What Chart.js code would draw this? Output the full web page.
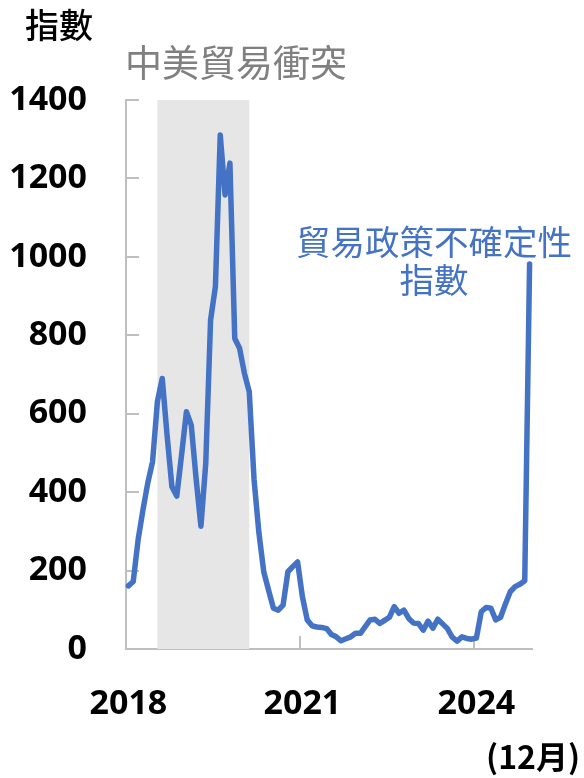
<!DOCTYPE html>
<html>
<head>
<meta charset="utf-8">
<script src="https://cdn.jsdelivr.net/npm/chart.js@4.4.1/dist/chart.umd.min.js"></script>
<style>
html,body{margin:0;padding:0;background:#fff;}
#wrap{position:relative;width:584px;height:778px;overflow:hidden;}
#c{position:absolute;left:0;top:0;}
.t{position:absolute;font-family:"Noto Sans CJK TC","Noto Sans",sans-serif;white-space:nowrap;line-height:1;}
</style>
</head>
<body>
<div id="wrap">
<canvas id="c" width="584" height="778"></canvas>
<div class="t" style="left:25px;top:7px;font-size:34px;color:#000;font-weight:500;">指數</div>
<div class="t" style="left:125px;top:43px;font-size:37px;color:#808080;">中美貿易衝突</div>
<div class="t" style="left:294px;top:221px;font-size:34.5px;color:#4472c4;text-align:center;width:280px;line-height:38px;">貿易政策不確定性<br>指數</div>
<div class="t" style="right:4px;top:739px;font-size:32px;color:#000;font-weight:600;">(12月)</div>
</div>
<script>
// ---- data ----
const years = [2018, 2019, 2020, 2021, 2022, 2023, 2024];
const tickYears = ['2018', '2021', '2024'];
const months = [];
years.forEach(y => { for (let m = 1; m <= 12; m++) months.push(y + '-' + String(m).padStart(2, '0')); });

const tpuIndex = [
  161, 172, 278, 354, 423, 478, 631, 690, 545, 414, 390, 495,
  605, 571, 435, 313, 473, 839, 924, 1311, 1158, 1239, 792, 767,
  703, 656, 431, 296, 197, 150, 104, 99, 112, 197, 210, 222,
  133, 74, 59, 56, 55, 52, 37, 31, 21, 26, 31, 40,
  40, 57, 74, 76, 65, 73, 81, 108, 91, 99, 78, 66,
  65, 48, 71, 53, 76, 64, 52, 30, 20, 31, 27, 25,
  28, 95, 106, 104, 74, 81, 115, 146, 159, 165, 174, 982
];
const yTicks = [0, 200, 400, 600, 800, 1000, 1200, 1400];
const shadeStart = '2018-07';
const shadeEnd = '2020-02';

const AXIS = '#bfbfbf';

const decor = {
  id: 'decor',
  beforeDatasetsDraw(chart) {
    const {ctx, scales: {x, y}} = chart;
    const x0 = x.getPixelForValue(months.indexOf(shadeStart));
    const x1 = x.getPixelForValue(months.indexOf(shadeEnd));
    const yt = y.getPixelForValue(1400), yb = y.getPixelForValue(0);
    ctx.save();
    ctx.fillStyle = '#e6e6e6';
    ctx.fillRect(x0, yt, x1 - x0, yb - yt);
    ctx.strokeStyle = AXIS;
    ctx.lineWidth = 2;
    ctx.beginPath();
    yTicks.forEach(v => {
      const py = Math.round(y.getPixelForValue(v));
      ctx.moveTo(x.left, py); ctx.lineTo(x.left + 13, py);
    });
    tickYears.forEach(t => {
      const i = months.indexOf(t + '-01');
      if (i > 0) {
        const px = Math.round((x.getPixelForValue(i - 1) + x.getPixelForValue(i)) / 2);
        ctx.moveTo(px, y.bottom); ctx.lineTo(px, y.bottom - 13);
      }
    });
    ctx.stroke();
    ctx.restore();
  }
};

new Chart(document.getElementById('c'), {
  type: 'line',
  data: {
    labels: months,
    datasets: [{
      data: tpuIndex,
      borderColor: '#4472c4',
      borderWidth: 5.5,
      pointRadius: 0,
      tension: 0,
      borderJoinStyle: 'round',
      borderCapStyle: 'round',
      fill: false
    }]
  },
  options: {
    responsive: false,
    animation: false,
    devicePixelRatio: 1,
    layout: {padding: {top: 100, right: 52, left: 0, bottom: 0}},
    plugins: {legend: {display: false}, tooltip: {enabled: false}, title: {display: false}},
    scales: {
      x: {
        type: 'category',
        offset: true,
        grid: {display: true, drawOnChartArea: false, drawTicks: false},
        border: {display: true, color: AXIS, width: 2},
        ticks: {
          autoSkip: false,
          maxRotation: 0,
          minRotation: 0,
          padding: 35,
          color: '#000',
          font: {family: '"Noto Sans", sans-serif', size: 34, weight: 'bold'},
          callback: function(v, i) {
            const lab = months[i];
            return (lab.endsWith('-01') && tickYears.includes(lab.slice(0, 4))) ? lab.slice(0, 4) : '';
          }
        },
        afterFit(s) { s.height = 129; }
      },
      y: {
        min: 0,
        max: 1400,
        grid: {display: true, drawOnChartArea: false, drawTicks: false},
        border: {display: true, color: AXIS, width: 2},
        afterBuildTicks(s) { s.ticks = yTicks.map(v => ({value: v})); },
        ticks: {
          padding: 39,
          color: '#000',
          font: {family: '"Noto Sans", sans-serif', size: 34, weight: 'bold'},
          callback: v => String(v)
        },
        afterFit(s) { s.width = 126; }
      }
    }
  },
  plugins: [decor]
});
</script>
</body>
</html>
